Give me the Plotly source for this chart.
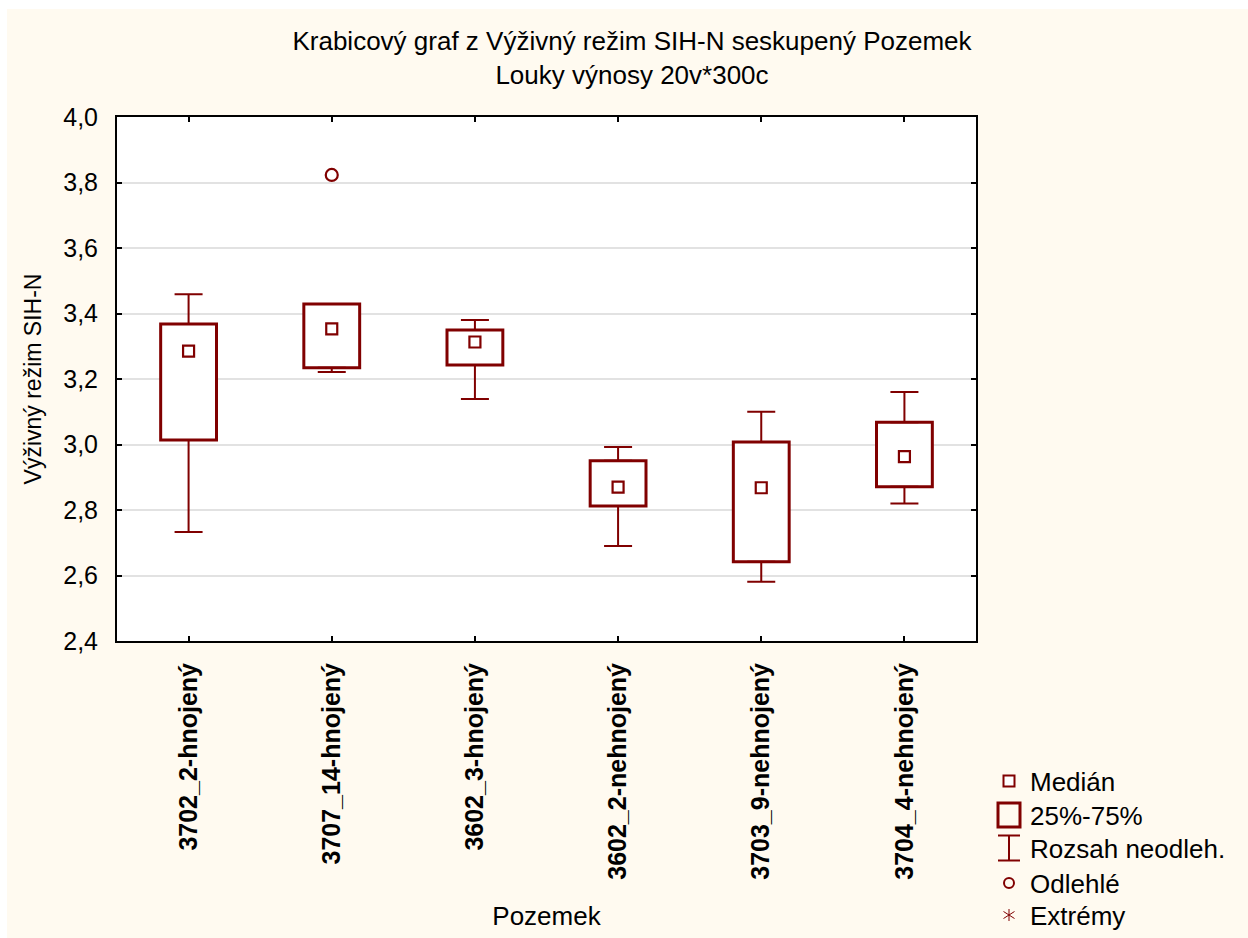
import plotly.graph_objects as go

# ---------------- data ----------------
categories = ["3702_2-hnojený", "3707_14-hnojený", "3602_3-hnojený",
              "3602_2-nehnojený", "3703_9-nehnojený", "3704_4-nehnojený"]
medians = [3.285, 3.353, 3.313, 2.870, 2.868, 2.963]
q1 = [3.014, 3.234, 3.243, 2.812, 2.642, 2.871]
q3 = [3.368, 3.429, 3.350, 2.950, 3.008, 3.068]
whisker_min = [2.733, 3.221, 3.139, 2.690, 2.581, 2.820]
whisker_max = [3.459, 3.429, 3.380, 2.992, 3.100, 3.160]
outlier_cats = ["3707_14-hnojený"]
outlier_vals = [3.823]
y_ticks = [2.4, 2.6, 2.8, 3.0, 3.2, 3.4, 3.6, 3.8, 4.0]
legend_labels = ["Medián", "25%-75%", "Rozsah neodleh.", "Odlehlé", "Extrémy"]

# ---------------- style ----------------
DARK = "#800000"
FONT = "Liberation Sans, Arial, sans-serif"
CREAM = "#FFFAF0"
W, H = 1248, 938
L, R, T, B = 117, 976, 117, 641


def px(x):
    return (x - L) / (R - L)


def py(y):
    return (B - y) / (B - T)


fig = go.Figure()

# boxes (25%-75%)
fig.add_trace(go.Bar(
    x=categories, y=[b - a for a, b in zip(q1, q3)], base=q1, width=0.39,
    marker=dict(color="white", line=dict(color=DARK, width=3)),
    hoverinfo="skip", showlegend=False))

# upper whiskers
fig.add_trace(go.Scatter(
    x=categories, y=q3, mode="markers",
    marker=dict(size=1, color="rgba(0,0,0,0)"),
    error_y=dict(type="data", symmetric=False,
                 array=[m - b for m, b in zip(whisker_max, q3)],
                 arrayminus=[0] * len(q3),
                 color=DARK, thickness=2, width=14),
    hoverinfo="skip", showlegend=False))

# lower whiskers
fig.add_trace(go.Scatter(
    x=categories, y=q1, mode="markers",
    marker=dict(size=1, color="rgba(0,0,0,0)"),
    error_y=dict(type="data", symmetric=False,
                 array=[0] * len(q1),
                 arrayminus=[a - m for a, m in zip(q1, whisker_min)],
                 color=DARK, thickness=2, width=14),
    hoverinfo="skip", showlegend=False))

# medians
fig.add_trace(go.Scatter(
    x=categories, y=medians, mode="markers",
    marker=dict(symbol="square-open", size=11, color=DARK, line=dict(width=2.2)),
    showlegend=False))

# outliers
fig.add_trace(go.Scatter(
    x=outlier_cats, y=outlier_vals, mode="markers",
    marker=dict(symbol="circle-open", size=12, color=DARK, line=dict(width=2.2)),
    showlegend=False))

# ---------------- layout ----------------
shapes = [
    # white outer strips around the cream panel
    dict(type="rect", xref="paper", yref="paper", x0=px(0), x1=px(W), y0=py(9), y1=py(0),
         fillcolor="white", line=dict(width=0), layer="below"),
    dict(type="rect", xref="paper", yref="paper", x0=px(0), x1=px(7), y0=py(H), y1=py(0),
         fillcolor="white", line=dict(width=0), layer="below"),
]

# legend glyphs
gx = 1009
rows = [781, 815, 848, 883, 915]
shapes.append(dict(type="rect", xref="paper", yref="paper",
                   x0=px(gx - 5.5), x1=px(gx + 5.5), y0=py(rows[0] + 5.5), y1=py(rows[0] - 5.5),
                   line=dict(color=DARK, width=2), fillcolor="white"))
shapes.append(dict(type="rect", xref="paper", yref="paper",
                   x0=px(gx - 11), x1=px(gx + 11), y0=py(rows[1] + 12), y1=py(rows[1] - 12),
                   line=dict(color=DARK, width=3), fillcolor="rgba(0,0,0,0)"))
for (xa, ya, xb, yb) in [(gx, rows[2] - 12.5, gx, rows[2] + 12.5),
                         (gx - 11, rows[2] - 12.5, gx + 11, rows[2] - 12.5),
                         (gx - 11, rows[2] + 12.5, gx + 11, rows[2] + 12.5)]:
    shapes.append(dict(type="line", xref="paper", yref="paper",
                       x0=px(xa), x1=px(xb), y0=py(ya), y1=py(yb),
                       line=dict(color=DARK, width=2)))
shapes.append(dict(type="circle", xref="paper", yref="paper",
                   x0=px(gx - 5), x1=px(gx + 5), y0=py(rows[3] + 5), y1=py(rows[3] - 5),
                   line=dict(color=DARK, width=2)))
for (dx, dy) in [(0, 6), (5.5, 3.5), (5.5, -3.5)]:
    shapes.append(dict(type="line", xref="paper", yref="paper",
                       x0=px(gx - dx), x1=px(gx + dx), y0=py(rows[4] - dy), y1=py(rows[4] + dy),
                       line=dict(color=DARK, width=1)))

annotations = []
for lab, yy in zip(legend_labels, rows):
    annotations.append(dict(text=lab, xref="paper", yref="paper", x=px(1028), y=py(yy + 1),
                            xanchor="left", yanchor="middle", showarrow=False,
                            font=dict(family=FONT, size=26, color="black")))

fig.update_layout(
    width=W, height=H,
    margin=dict(l=L, r=W - R, t=T, b=H - B, autoexpand=False),
    paper_bgcolor=CREAM, plot_bgcolor="white",
    separators=", ",
    font=dict(family=FONT, size=25, color="black"),
    title=dict(text="Krabicový graf z Výživný režim SIH-N seskupený Pozemek<br>Louky výnosy 20v*300c",
               x=632 / W, xanchor="center", xref="container",
               y=1 - 50 / H, yanchor="top", yref="container",
               font=dict(family=FONT, size=26, color="black")),
    showlegend=False,
    shapes=shapes, annotations=annotations,
    xaxis=dict(type="category", range=[-0.5, 5.5],
               showline=True, linecolor="black", linewidth=2, mirror="allticks",
               ticks="inside", ticklen=5, tickwidth=2, tickcolor="black",
               tickangle=-90, ticklabelstandoff=10,
               tickfont=dict(family=FONT, size=25, color="black", weight="bold"),
               showgrid=False,
               title=dict(text="Pozemek", standoff=28, font=dict(family=FONT, size=26))),
    yaxis=dict(range=[2.4, 4.0], tickvals=y_ticks, tickformat=".1f",
               showline=True, linecolor="black", linewidth=2, mirror="allticks",
               ticks="inside", ticklen=5, tickwidth=2, tickcolor="black",
               ticklabelstandoff=12,
               tickfont=dict(family=FONT, size=25, color="black"),
               showgrid=True, gridcolor="#E2E2E2", gridwidth=1.5, zeroline=False,
               title=dict(text="Výživný režim SIH-N", standoff=15, font=dict(family=FONT, size=23))),
)

fig.write_html("out.html")
